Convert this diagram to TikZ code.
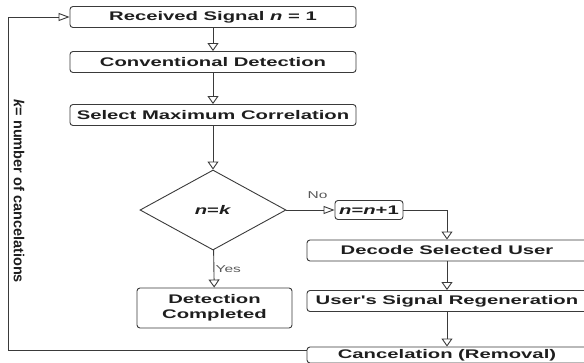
\documentclass[tikz,border=0pt]{standalone}
\usepackage{fontspec}
\setmainfont{Liberation Sans}
\newfontfamily\boxfont[FakeStretch=1.62]{Liberation Sans Bold}[ItalicFont={Liberation Sans Bold Italic}, ItalicFeatures={FakeStretch=1.62}]
\newfontfamily\thinfont[FakeStretch=1.55]{Liberation Sans}
\usetikzlibrary{shapes.geometric, arrows.meta}
\definecolor{linegray}{HTML}{3A3A3A}
\definecolor{textgray}{HTML}{1E1E1E}

\begin{document}
\begin{tikzpicture}[x=1pt, y=-1pt,
  box/.style={draw=linegray, line width=0.9pt, rounded corners=3pt, minimum height=21pt,
    inner sep=1pt, text=textgray, font=\boxfont\fontsize{12.5}{15}\selectfont},
  decision/.style={draw=linegray, line width=0.9pt, diamond, aspect=1.8, inner sep=0pt,
    minimum width=146pt, minimum height=80pt, text=textgray,
    font=\boxfont\fontsize{12.5}{15}\selectfont},
  flow/.style={draw=linegray, line width=0.9pt},
  vtip/.style={flow, -{Triangle[open, length=8pt, width=11pt]}},
  htip/.style={flow, -{Triangle[open, length=11pt, width=8pt]}},
  branch/.style={text=black!65, font=\thinfont\fontsize{10}{12}\selectfont}
]
\clip (0,0) rectangle (584,362);
% main column
\node[box, minimum width=286pt] (rs) at (213,17) {Received Signal \textit{n} = 1};
\node[box, minimum width=286pt] (cd) at (213,62) {Conventional Detection};
\node[box, minimum width=286pt] (smc) at (213,115) {Select Maximum Correlation};
\node[decision] (dec) at (213,210) {\textit{n}=\textit{k}};
\node[box, minimum width=155pt, minimum height=40pt, align=center] (dc) at (214.5,308)
  {Detection\\Completed};
% cancelation branch
\node[box, minimum width=68pt, minimum height=19pt] (inc) at (369,210) {\textit{n}=\textit{n}+1};
\node[box, minimum width=280pt] (dsu) at (447,250.5) {Decode Selected User};
\node[box, minimum width=280pt] (usr) at (447,301) {User's Signal Regeneration};
\node[box, minimum width=280pt, minimum height=16pt] (can) at (447,355) {Cancelation (Removal)};
\coordinate (lp) at (8,17);
\node[rotate=-90, text=textgray, font=\fontsize{14.5}{16}\selectfont\bfseries] (klab) at (19,191)
  {\textit{k}= number of cancelations};

\draw[vtip] (rs) -- (cd);
\draw[vtip] (cd) -- (smc);
\draw[vtip] (smc) -- (dec);
\draw[htip] (dec) -- node[branch, above, yshift=8pt, xshift=7pt] {No} (inc);
\draw[vtip] (dec) -- node[branch, right, xshift=-2pt] {Yes} (dc);
\draw[vtip] (inc.east) -| (dsu.north);
\draw[vtip] (dsu) -- (usr);
\draw[vtip] (usr) -- (can);
\draw[htip] ([yshift=5pt]can.west) -| (lp) -- (rs.west);
\end{tikzpicture}
\end{document}
